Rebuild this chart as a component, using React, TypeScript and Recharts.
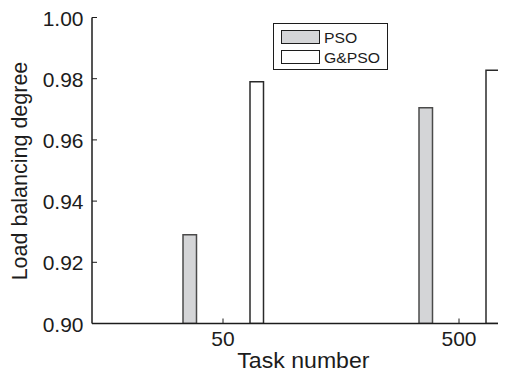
import { BarChart, Bar, XAxis, YAxis, Legend } from 'recharts'

const tasks = ['50', '500']
const seriesNames = ['PSO', 'G&PSO']
const psoValues = [0.929, 0.9705]
const gpsoValues = [0.979, 0.9828]
const yTicks = [0.9, 0.92, 0.94, 0.96, 0.98, 1.0]

const data = tasks.map((task, i) => ({ task, pso: psoValues[i], gpso: gpsoValues[i] }))

const FONT = '"Liberation Sans", Arial, Helvetica, sans-serif'
const INK = '#1c1c1c'

function YTick({ x, y, payload }: any) {
  return (
    <text
      transform={`translate(${x},${y}) scale(1.05,1)`}
      textAnchor="end"
      dy={8}
      fontFamily={FONT}
      fontSize={20}
      fill={INK}
    >
      {Number(payload.value).toFixed(2)}
    </text>
  )
}

function XTick({ x, y, payload }: any) {
  return (
    <text
      transform={`translate(${x},${y}) scale(1.05,1)`}
      textAnchor="middle"
      dy={23}
      fontFamily={FONT}
      fontSize={20}
      fill={INK}
    >
      {payload.value}
    </text>
  )
}

// top box edge: tick marks only, no labels
function NoLabel() {
  return <g />
}

function LegendBox({ payload }: any) {
  const items = [...(payload ?? [])].sort(
    (a: any, b: any) => seriesNames.indexOf(a.value) - seriesNames.indexOf(b.value)
  )
  return (
    <div
      style={{
        width: 113,
        height: 42,
        border: `1.5px solid ${INK}`,
        background: '#fff',
        boxSizing: 'content-box',
        fontFamily: FONT,
        fontSize: 15,
        color: INK,
        paddingTop: 3,
      }}
    >
      {items.map((p: any) => (
        <div key={p.value} style={{ display: 'flex', alignItems: 'center', height: 20, paddingLeft: 7 }}>
          <div
            style={{
              width: 39,
              height: 14,
              background: p.payload.fill,
              border: `1.5px solid ${INK}`,
              boxSizing: 'border-box',
            }}
          />
          <span style={{ marginLeft: 4, display: 'inline-block', transform: 'scaleX(1.05)', transformOrigin: 'left' }}>
            {p.value}
          </span>
        </div>
      ))}
    </div>
  )
}

const tickStyle = { stroke: INK, strokeWidth: 1 }
const axisStyle = { stroke: INK, strokeWidth: 1.5 }

export default function App() {
  return (
    <div style={{ width: 498, height: 364, overflow: 'hidden', background: '#fff' }}>
      <BarChart
        width={582}
        height={364}
        data={data}
        margin={{ top: 9.5, right: 0, bottom: 0, left: 0 }}
        barSize={13.5}
        barGap={53.5}
      >
        <XAxis
          dataKey="task"
          padding={{ left: 13, right: 13 }}
          height={48.5}
          tickSize={-5}
          tickMargin={5}
          tick={<XTick />}
          tickLine={tickStyle}
          axisLine={axisStyle}
          label={{
            content: () => (
              <text
                transform="translate(295.4,360) scale(1.05,1)"
                textAnchor="middle"
                fontFamily={FONT}
                fontSize={22}
                fill={INK}
              >
                Task number
              </text>
            ),
          }}
        />
        <XAxis
          xAxisId="top"
          orientation="top"
          dataKey="task"
          padding={{ left: 13, right: 13 }}
          height={0}
          tickSize={-5}
          tick={<NoLabel />}
          tickLine={tickStyle}
          axisLine={axisStyle}
        />
        <YAxis
          domain={[0.9, 1.0]}
          ticks={yTicks}
          allowDataOverflow
          width={84}
          tickSize={-5}
          tickMargin={13.5}
          tick={<YTick />}
          tickLine={tickStyle}
          axisLine={axisStyle}
          label={{
            content: () => (
              <text
                transform="translate(19,163) scale(1.05,1) rotate(-90)"
                textAnchor="middle"
                fontFamily={FONT}
                fontSize={21.5}
                fill={INK}
              >
                Load balancing degree
              </text>
            ),
          }}
        />
        <Legend
          layout="vertical"
          align="center"
          verticalAlign="middle"
          content={<LegendBox />}
          wrapperStyle={{ position: 'absolute', left: 264.7, top: 15.3, width: 'auto', height: 'auto' }}
        />
        <Bar dataKey="pso" name="PSO" fill="#d4d5d7" stroke="#4a4a4a" strokeWidth={1.5} isAnimationActive={false} />
        <Bar dataKey="gpso" name="G&PSO" fill="#ffffff" stroke="#2a2a2a" strokeWidth={1.5} isAnimationActive={false} />
      </BarChart>
    </div>
  )
}
